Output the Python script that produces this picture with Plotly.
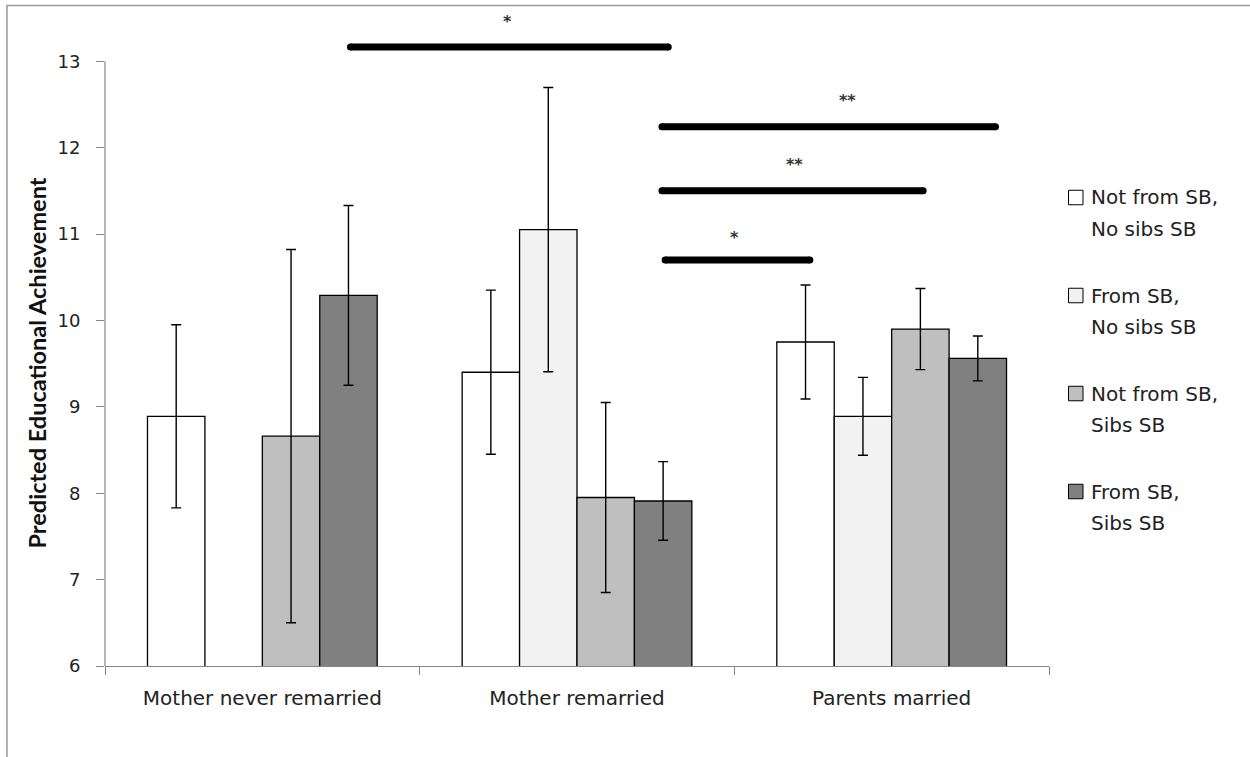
import plotly.graph_objects as go

categories = ["Mother never remarried", "Mother remarried", "Parents married"]
legend_line1 = ["Not from SB,", "From SB,", "Not from SB,", "From SB,"]
legend_line2 = ["No sibs SB", "No sibs SB", "Sibs SB", "Sibs SB"]
series_colors = ["#FFFFFF", "#F2F2F2", "#BFBFBF", "#808080"]

vals_not_sb_no_sibs = [8.89, 9.40, 9.75]
vals_sb_no_sibs = [None, 11.05, 8.89]
vals_not_sb_sibs = [8.66, 7.95, 9.90]
vals_sb_sibs = [10.29, 7.91, 9.56]

err_not_sb_no_sibs = [1.06, 0.95, 0.66]
err_sb_no_sibs = [None, 1.645, 0.45]
err_not_sb_sibs = [2.16, 1.10, 0.47]
err_sb_sibs = [1.04, 0.455, 0.26]

y_ticks = [6, 7, 8, 9, 10, 11, 12, 13]

# significance bars (category-axis units / data units)
sig_x0 = [0.28, 1.27, 1.27, 1.28]
sig_x1 = [1.29, 2.33, 2.10, 1.74]
sig_y = [13.165, 12.24, 11.50, 10.70]
sig_labels = ["*", "**", "**", "*"]
sig_label_x = [0.78, 1.86, 1.69, 1.50]
sig_label_y = [13.46, 12.55, 11.81, 10.96]

FONT = "DejaVu Sans"
TITLE_FONT = "Lato"
x_pos = list(range(len(categories)))

all_vals = [vals_not_sb_no_sibs, vals_sb_no_sibs, vals_not_sb_sibs, vals_sb_sibs]
all_errs = [err_not_sb_no_sibs, err_sb_no_sibs, err_not_sb_sibs, err_sb_sibs]

# plot-area geometry (pixels) used to place the hand-built legend in paper units
L, R, T, B, W, H = 105, 201, 18, 91, 1250, 757
PW, PH = W - L - R, H - T - B


def px_to_paper_x(px):
    return (px - L) / PW


def px_to_paper_y(py):
    return (H - B - py) / PH


fig = go.Figure()
for i in range(4):
    fig.add_trace(go.Bar(
        x=x_pos, y=all_vals[i], name=legend_line1[i] + " " + legend_line2[i],
        marker=dict(color=series_colors[i], line=dict(color="#000000", width=1.3)),
        error_y=dict(type="data", array=all_errs[i], visible=True,
                     color="#000000", thickness=1.4, width=5),
        showlegend=False,
    ))

for i in range(len(sig_y)):
    fig.add_trace(go.Scatter(
        x=[sig_x0[i], sig_x1[i]], y=[sig_y[i], sig_y[i]],
        mode="lines+markers", line=dict(color="#000000", width=7),
        marker=dict(color="#000000", size=7), showlegend=False,
        hoverinfo="skip", cliponaxis=False,
    ))
    fig.add_annotation(x=sig_label_x[i], y=sig_label_y[i], text="<b>" + sig_labels[i] + "</b>",
                       showarrow=False, font=dict(family=FONT, size=16, color="#333333"),
                       xref="x", yref="y")

# y axis line only from 6 to 13
fig.add_shape(type="line", xref="paper", yref="y", x0=0, x1=0,
              y0=y_ticks[0], y1=y_ticks[-1], line=dict(color="#868686", width=1.2))

# outer frame
fig.add_shape(type="rect", xref="paper", yref="paper",
              x0=px_to_paper_x(7), x1=px_to_paper_x(1300),
              y0=px_to_paper_y(5.5), y1=px_to_paper_y(820),
              line=dict(color="#9A9A9A", width=1.5), fillcolor="rgba(0,0,0,0)")

# legend (hand-built to match the two-line layout)
leg_first_y = 197.5
leg_step = 98
for i in range(4):
    cy = leg_first_y + i * leg_step
    fig.add_shape(type="rect", xref="paper", yref="paper",
                  x0=px_to_paper_x(1068.5), x1=px_to_paper_x(1083),
                  y0=px_to_paper_y(cy - 7.25), y1=px_to_paper_y(cy + 7.25),
                  fillcolor=series_colors[i], line=dict(color="#000000", width=1))
    fig.add_annotation(text=legend_line1[i], xref="paper", yref="paper",
                       x=px_to_paper_x(1089), y=px_to_paper_y(cy), xanchor="left",
                       yanchor="middle", showarrow=False,
                       font=dict(family=FONT, size=20, color="#222222"))
    fig.add_annotation(text=legend_line2[i], xref="paper", yref="paper",
                       x=px_to_paper_x(1089), y=px_to_paper_y(cy + 31.5), xanchor="left",
                       yanchor="middle", showarrow=False,
                       font=dict(family=FONT, size=20, color="#222222"))

fig.add_annotation(text="<b>Predicted Educational Achievement</b>", textangle=-90,
                   xref="paper", yref="paper", x=px_to_paper_x(36.5), y=px_to_paper_y(363),
                   xanchor="center", yanchor="middle", showarrow=False,
                   font=dict(family=TITLE_FONT, size=23.5, color="#111111"))

fig.update_layout(
    width=W, height=H,
    margin=dict(l=L, r=R, t=T, b=B),
    paper_bgcolor="white", plot_bgcolor="white",
    barmode="group", bargap=0.27, bargroupgap=0,
    font=dict(family=FONT, size=18, color="#222222"),
    showlegend=False,
    xaxis=dict(range=[-0.5, 2.5], tickmode="array", tickvals=x_pos, ticktext=categories,
               showline=True, linecolor="#868686", linewidth=1.2, ticks="",
               showgrid=False, zeroline=False,
               minor=dict(tickmode="array", tickvals=[-0.5, 0.5, 1.5, 2.5],
                          ticks="outside", ticklen=8, tickcolor="#868686", tickwidth=1.2,
                          showgrid=False),
               tickfont=dict(family=FONT, size=20, color="#222222"),
               ticklabelstandoff=14),
    yaxis=dict(range=[6, 13.5], tickmode="array", tickvals=y_ticks,
               showline=False, ticks="outside", ticklen=8, tickcolor="#868686",
               tickwidth=1.2, showgrid=False, zeroline=False,
               tickfont=dict(family=FONT, size=18, color="#222222"),
               ticklabelstandoff=12),
)

fig.write_html("out.html", config={"displayModeBar": False},
               post_script="document.body.style.margin='0px';")
